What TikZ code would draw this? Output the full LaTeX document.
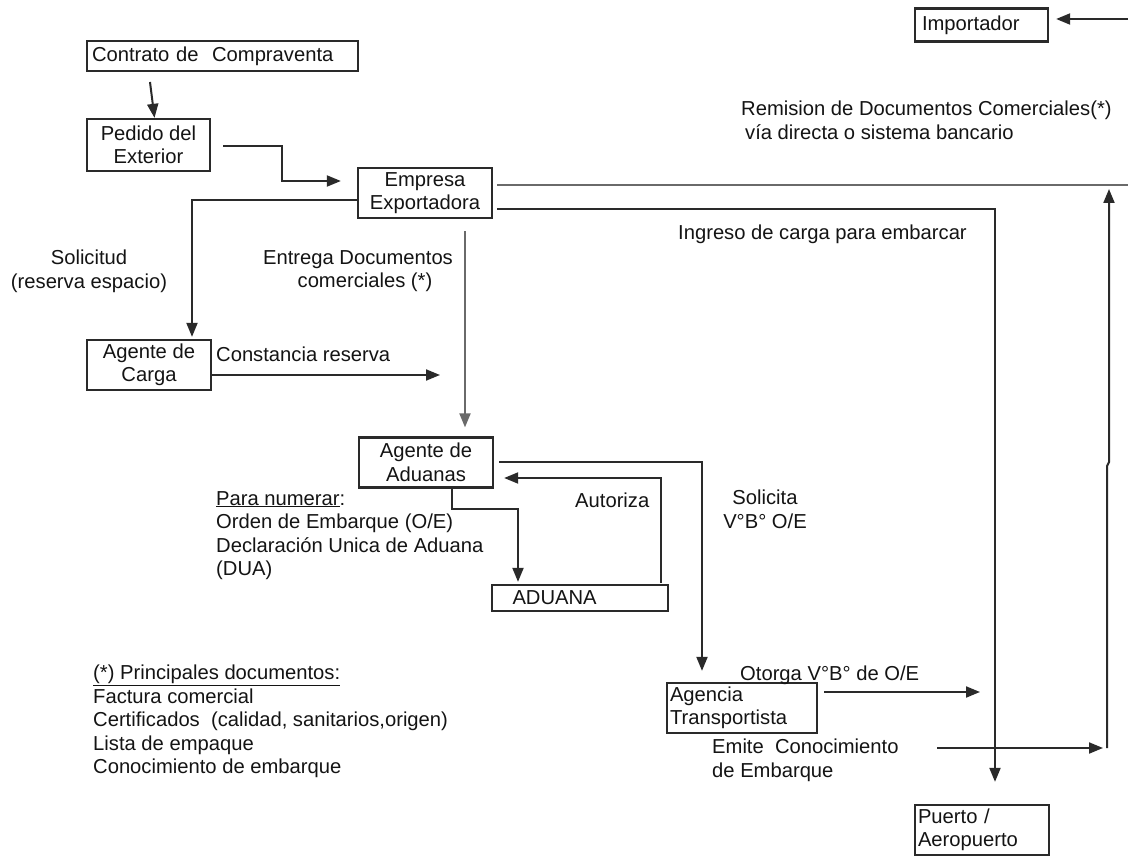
\documentclass[tikz,border=0pt]{standalone}
\usepackage{fontspec}
\setmainfont{Liberation Sans}
\usetikzlibrary{arrows.meta,calc}
\definecolor{ink}{HTML}{141414}
\definecolor{lineink}{HTML}{2A2A2A}
\definecolor{lightline}{HTML}{6A6A6A}
\tikzset{
  box/.style={draw=lineink, line width=2.3pt, inner ysep=0pt, text=ink, font=\fontsize{20.2}{23.5}\selectfont},
  lbl/.style={inner sep=0pt, text=ink, font=\fontsize{20.2}{23.5}\selectfont},
  conn/.style={draw=lineink, line width=2pt},
  tip/.style={-{Triangle[length=14pt,width=11pt]}},
  arr/.style={conn, tip},
  soft/.style={draw=lightline, line width=2pt}
}
\begin{document}
\begin{tikzpicture}[x=1pt,y=-1pt]
\useasboundingbox[fill=white] (0,0) rectangle (1128,856);

% boxes
\node[box, text width=261pt, inner xsep=5pt, align=left, minimum height=30pt] (contrato) at (222.5,56) {Contrato de\ \ Compraventa};
\node[box, minimum width=123pt, minimum height=52pt, align=center, inner xsep=0pt] (pedido) at (148.5,145) {Pedido del\\Exterior};
\node[box, minimum width=134pt, minimum height=50pt, align=center, inner xsep=0pt] (empresa) at (425,193) {Empresa\\Exportadora};
\node[box, text width=119pt, inner xsep=7pt, align=left, minimum height=33pt] (importador) at (981.5,25) {Importador};
\node[box, minimum width=124pt, minimum height=50pt, align=center, inner xsep=0pt] (carga) at (149,365) {Agente de\\Carga};
\node[box, minimum width=134pt, minimum height=50pt, align=center, inner xsep=0pt] (aduanas) at (426,462.5) {Agente de\\Aduanas};
\node[box, text width=155pt, inner xsep=10.5pt, align=left, minimum height=26pt] (aduana) at (580,598) {\hspace*{10pt}ADUANA};
\node[box, text width=144pt, inner xsep=3pt, align=left, minimum height=50pt] (agencia) at (742,708) {Agencia\\Transportista};
\node[box, text width=128pt, inner xsep=3pt, align=left, minimum height=50pt] (puerto) at (982,830) {Puerto /\\Aeropuerto};

% labels
\node[lbl, anchor=north west, align=left] (remision) at (741,101) {Remision de Documentos Comerciales(*)\\\hspace*{4pt}vía directa o sistema bancario};
\node[lbl, anchor=north, align=center] (solicitud) at (89,250) {Solicitud\\(reserva espacio)};
\node[lbl, anchor=north, align=center] (entrega) at (358,250) {Entrega Documentos\\\hspace*{14pt}comerciales (*)};
\node[lbl, anchor=north west] (constancia) at (216,347) {Constancia reserva};
\node[lbl, anchor=north west] (ingreso) at (678,225) {Ingreso de carga para embarcar};
\node[lbl, anchor=north west, align=left] (numerar) at (216,491) {\underline{Para numerar}:\\Orden de Embarque (O/E)\\Declaración Unica de Aduana\\(DUA)};
\node[lbl, anchor=north west] (autoriza) at (575,493) {Autoriza};
\node[lbl, anchor=north, align=center] (solicita) at (765,490) {Solicita\\V°B° O/E};
\node[lbl, anchor=north west, align=left] (principales) at (93,665) {\underline{(*) Principales documentos:}\\Factura comercial\\Certificados\ \ (calidad, sanitarios,origen)\\Lista de empaque\\Conocimiento de embarque};
\node[lbl, anchor=north west] (otorga) at (740,666) {Otorga V°B° de O/E};
\node[lbl, anchor=north west, align=left] (emite) at (712,739) {Emite\ \ Conocimiento\\de Embarque};

% free ends
\coordinate (c1) at (150,82);
\coordinate (cr) at (440,375);
\coordinate (r1) at (1128,185);
\coordinate (r2) at (1128,19);
\coordinate (oe) at (980,692);
\coordinate (ec1) at (937,748);
\coordinate (ec2) at (1103,748);
\coordinate (v1) at (1107,748);
\coordinate (vj1) at (1107,466);
\coordinate (vj2) at (1109,462);
\coordinate (v2) at (1109,189);

% connectors
\draw[arr] (c1) -- ($(pedido.north)+(6,0)$);
\draw[arr] ($(pedido.east)+(12,1)$) -- ++(59,0) |- ($(empresa.west)+(-16,-12)$);
\draw[arr] ($(empresa.west)+(0,7)$) -| ($(carga.north)+(43,-2)$);
\draw[soft, tip] ($(empresa.south)+(40,12)$) -- ($(aduanas.north)+(39,-9)$);
\draw[arr] ($(carga.east)+(0,10)$) -- (cr);
\draw[soft] ($(empresa.east)+(4,-8)$) -- (r1);
\draw[arr] (r2) -- ($(importador.east)+(7,-6)$);
\draw[arr] ($(empresa.east)+(4,16)$) -| ($(puerto.north)+(13,-22)$);
\draw[arr] ($(aduanas.south)+(26,0)$) -- ++(0,20.5) -| ($(aduana.north)+(-62,-2)$);
\draw[arr] ($(aduana.north)+(81,-1)$) |- ($(aduanas.east)+(10,15.5)$);
\draw[arr] ($(aduanas.east)+(5,-1)$) -| ($(agencia.north)+(-40,-11)$);
\draw[arr] ($(agencia.east)+(6,-16)$) -- (oe);
\draw[arr] (ec1) -- (ec2);
\draw[arr] (v1) -- (vj1) -- (vj2) -- (v2);
\end{tikzpicture}
\end{document}
